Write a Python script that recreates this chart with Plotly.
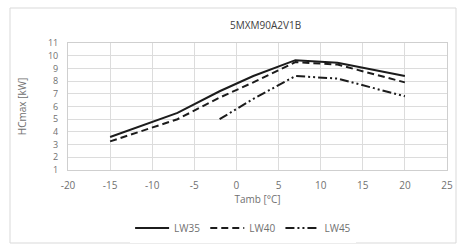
import plotly.graph_objects as go

title = "5MXM90A2V1B"
x_lw35 = [-15, -7, -2, 2, 7, 12, 20]
y_lw35 = [3.6, 5.5, 7.2, 8.4, 9.65, 9.45, 8.4]
x_lw40 = [-15, -7, -2, 2, 7, 12, 20]
y_lw40 = [3.25, 5.0, 6.7, 7.9, 9.5, 9.3, 7.9]
x_lw45 = [-2, 2, 7, 12, 20]
y_lw45 = [5.0, 6.6, 8.4, 8.2, 6.8]
x_ticks = [-20, -15, -10, -5, 0, 5, 10, 15, 20, 25]
x_labels = ["-20", "-15", "-10", "-5", "0", "5", "10", "15", "20", "25"]
y_ticks = list(range(1, 12))

font_fam = "Open Sans, Liberation Sans, sans-serif"
gray = "#707070"

fig = go.Figure()
fig.add_trace(go.Scatter(x=x_lw35, y=y_lw35, mode="lines", name="LW35",
                         line=dict(color="#1c1c1c", width=2)))
fig.add_trace(go.Scatter(x=x_lw40, y=y_lw40, mode="lines", name="LW40",
                         line=dict(color="#1c1c1c", width=2, dash="7px,4px")))
fig.add_trace(go.Scatter(x=x_lw45, y=y_lw45, mode="lines", name="LW45",
                         line=dict(color="#1c1c1c", width=2, dash="9px,3px,2px,3px,2px,3px")))

fig.update_layout(
    width=457, height=244,
    margin=dict(l=68, r=10, t=43, b=74, autoexpand=False),
    paper_bgcolor="white", plot_bgcolor="white",
    font=dict(family=font_fam, size=10, color=gray),
    showlegend=True,
    legend=dict(orientation="h", x=0.462, xanchor="center", y=-0.457, yanchor="middle",
                font=dict(size=10, color=gray), itemwidth=34, tracegroupgap=0),
    annotations=[dict(text=title, x=(265 - 68) / 379, xref="paper", y=(170 - 25) / 127,
                      yref="paper", showarrow=False, xanchor="center", yanchor="middle",
                      font=dict(size=10, color="#404040", family=font_fam))],
    shapes=[dict(type="rect", xref="paper", yref="paper",
                 x0=(10 - 68) / 379, x1=(456 - 68) / 379,
                 y0=(170 - 243) / 127, y1=(170 - 8) / 127,
                 line=dict(color="#d9d9d9", width=1), fillcolor="rgba(0,0,0,0)", layer="below")],
)
fig.update_xaxes(range=[-20, 25], tickvals=x_ticks, ticktext=x_labels, showgrid=True,
                 gridcolor="#dcdcdc", gridwidth=1, zeroline=False, showline=True,
                 linecolor="#cfcfcf", mirror=True, ticks="", ticklabelstandoff=6,
                 ticklabeloverflow="allow", automargin=False,
                 title=dict(text="Tamb [°C]", standoff=4, font=dict(size=10, color=gray)))
fig.update_yaxes(range=[1, 11], tickvals=y_ticks, showgrid=True, gridcolor="#dcdcdc",
                 gridwidth=1, zeroline=False, showline=True, linecolor="#cfcfcf", mirror=True,
                 ticks="", ticklabelstandoff=7, ticklabeloverflow="allow", automargin=False,
                 tickfont=dict(size=9, color=gray),
                 title=dict(text="HCmax [kW]", standoff=19, font=dict(size=10, color=gray)))

fig.write_html("out.html", config={"displayModeBar": False},
               post_script="document.body.style.margin='0';document.body.style.overflow='hidden';")
